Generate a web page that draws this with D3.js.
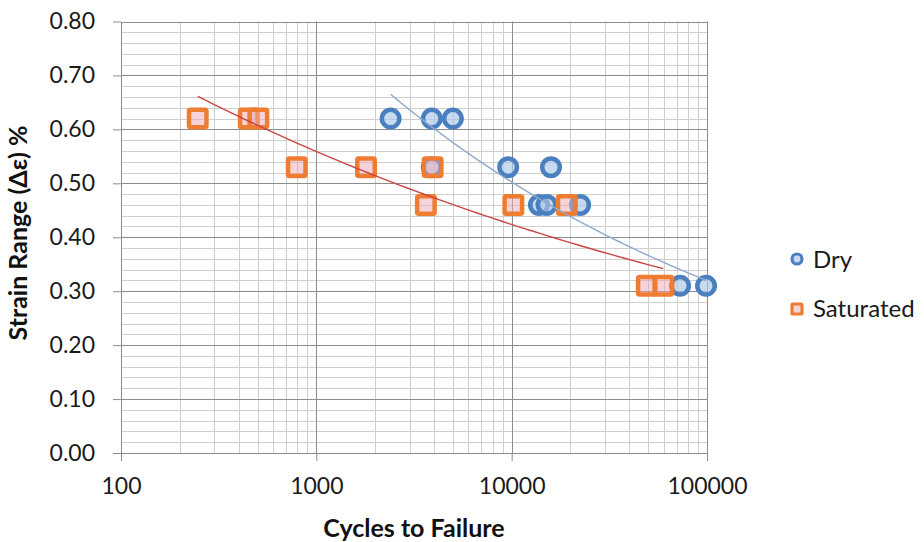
<!DOCTYPE html>
<html>
<head>
<meta charset="utf-8">
<script src="https://cdn.jsdelivr.net/npm/d3@7/dist/d3.min.js"></script>
<style>
  html, body { margin: 0; padding: 0; background: #fff; }
  svg { display: block; font-family: Lato, "Open Sans", "Liberation Sans", sans-serif; }
</style>
</head>
<body>
<svg id="chart" width="924" height="542"></svg>
<script>
// Strain-life data: cycles to failure vs. strain range for dry and saturated specimens
const dryCycles = [2400, 3900, 5000, 9600, 15900, 3900, 13800, 15100, 22400, 72800, 98900];
const dryStrain = [0.62, 0.62, 0.62, 0.53, 0.53, 0.53, 0.46, 0.46, 0.46, 0.31, 0.31];
const satCycles = [247, 451, 505, 794, 1796, 3940, 3638, 10200, 19150, 49200, 59800];
const satStrain = [0.62, 0.62, 0.62, 0.53, 0.53, 0.53, 0.46, 0.46, 0.46, 0.31, 0.31];

const xTickValues = [100, 1000, 10000, 100000];
const yTickValues = [0, 0.1, 0.2, 0.3, 0.4, 0.5, 0.6, 0.7, 0.8];
const seriesNames = ["Dry", "Saturated"];

const svg = d3.select("#chart");

const x = d3.scaleLog().domain([100, 100000]).range([121, 707]);
const y = d3.scaleLinear().domain([0, 0.8]).range([453, 21.5]);

// minor grid values
const xMinor = [];
[100, 1000, 10000].forEach(d => { for (let k = 2; k <= 9; k++) xMinor.push(d * k); });
const yMinor = d3.range(0, 41).map(i => i * 0.02).filter((v, i) => i % 5 !== 0);

const grid = svg.append("g");
grid.selectAll("line.ymin").data(yMinor).join("line")
  .attr("x1", x.range()[0]).attr("x2", x.range()[1])
  .attr("y1", d => Math.round(y(d)) + 0.5).attr("y2", d => Math.round(y(d)) + 0.5)
  .attr("stroke", "#cfcfcf").attr("stroke-width", 1);
grid.selectAll("line.xmin").data(xMinor).join("line")
  .attr("y1", y.range()[0]).attr("y2", y.range()[1])
  .attr("x1", d => Math.round(x(d)) + 0.5).attr("x2", d => Math.round(x(d)) + 0.5)
  .attr("stroke", "#cfcfcf").attr("stroke-width", 1);
grid.selectAll("line.ymaj").data(yTickValues.slice(1)).join("line")
  .attr("x1", x.range()[0]).attr("x2", x.range()[1])
  .attr("y1", d => Math.round(y(d)) + 0.5).attr("y2", d => Math.round(y(d)) + 0.5)
  .attr("stroke", "#8c8c8c").attr("stroke-width", 1);
grid.selectAll("line.xmaj").data(xTickValues.slice(1)).join("line")
  .attr("y1", y.range()[0]).attr("y2", y.range()[1])
  .attr("x1", d => Math.round(x(d)) + 0.5).attr("x2", d => Math.round(x(d)) + 0.5)
  .attr("stroke", "#8c8c8c").attr("stroke-width", 1);

// axes
const xAxis = d3.axisBottom(x).tickValues(xTickValues).tickFormat(d3.format("d"))
  .tickSizeInner(8).tickSizeOuter(0).tickPadding(17);
const yAxis = d3.axisLeft(y).tickValues(yTickValues).tickFormat(d3.format(".2f"))
  .tickSizeInner(8).tickSizeOuter(0).tickPadding(18);

const gx = svg.append("g").attr("transform", `translate(0,${y(0)})`).call(xAxis);
const gy = svg.append("g").attr("transform", `translate(${x(100)},0)`).call(yAxis);
[gx, gy].forEach(g => {
  g.selectAll("path.domain").attr("stroke", "#8c8c8c");
  g.selectAll(".tick line").attr("stroke", "#8c8c8c");
  g.selectAll("text").attr("font-size", 23).attr("fill", "#1a1a1a")
    .attr("font-family", "Lato, 'Open Sans', sans-serif");
});

// axis titles
svg.append("text").attr("x", 414).attr("y", 537)
  .attr("text-anchor", "middle").attr("font-size", 25).attr("font-weight", "bold")
  .attr("fill", "#111").text("Cycles to Failure");
svg.append("text").attr("transform", "translate(27,233) rotate(-90)")
  .attr("text-anchor", "middle").attr("font-size", 25).attr("font-weight", "bold")
  .attr("fill", "#111").text("Strain Range (Δε) %");

const blue = "#4a7fc0", orange = "#ee7d31";
const dryData = dryCycles.map((c, i) => ({ c, s: dryStrain[i] }));
const satData = satCycles.map((c, i) => ({ c, s: satStrain[i] }));

// markers
svg.append("g").selectAll("circle").data(dryData).join("circle")
  .attr("cx", d => x(d.c)).attr("cy", d => y(d.s)).attr("r", 8.75)
  .attr("fill", "rgba(170,198,230,0.65)").attr("stroke", blue).attr("stroke-width", 4.5);
const sq = 17.5;
svg.append("g").selectAll("rect").data(satData).join("rect")
  .attr("x", d => x(d.c) - sq / 2).attr("y", d => y(d.s) - sq / 2)
  .attr("width", sq).attr("height", sq).attr("rx", 1.5)
  .attr("fill", "rgba(236,168,180,0.5)").attr("stroke", orange).attr("stroke-width", 4.5);

// power-law trendlines y = a * x^b, least squares in log-log space
function powerFit(xs, ys) {
  const lx = xs.map(Math.log), ly = ys.map(Math.log);
  const mx = d3.mean(lx), my = d3.mean(ly);
  const b = d3.sum(lx, (v, i) => (v - mx) * (ly[i] - my)) / d3.sum(lx, v => (v - mx) ** 2);
  const a = Math.exp(my - b * mx);
  return { a, b, lo: d3.min(xs), hi: d3.max(xs) };
}
function trend(fit) {
  const n = 60, pts = [];
  for (let i = 0; i <= n; i++) {
    const c = Math.exp(Math.log(fit.lo) + (Math.log(fit.hi) - Math.log(fit.lo)) * i / n);
    pts.push([c, fit.a * Math.pow(c, fit.b)]);
  }
  return pts;
}
const line = d3.line().x(d => x(d[0])).y(d => y(d[1]));
svg.append("path").attr("d", line(trend(powerFit(satCycles, satStrain))))
  .attr("fill", "none").attr("stroke", "#cc4444").attr("stroke-width", 1.4);
svg.append("path").attr("d", line(trend(powerFit(dryCycles, dryStrain))))
  .attr("fill", "none").attr("stroke", "#8fa9cc").attr("stroke-width", 1.4);

// legend
const lg = svg.append("g");
lg.append("circle").attr("cx", 797).attr("cy", 259).attr("r", 5)
  .attr("fill", "rgba(170,198,230,0.65)").attr("stroke", blue).attr("stroke-width", 3.2);
lg.append("text").attr("x", 813).attr("y", 267.5).attr("font-size", 24).attr("fill", "#1a1a1a").text(seriesNames[0]);
lg.append("rect").attr("x", 792).attr("y", 304).attr("width", 10).attr("height", 10).attr("rx", 1)
  .attr("fill", "rgba(236,168,180,0.5)").attr("stroke", orange).attr("stroke-width", 3.2);
lg.append("text").attr("x", 813).attr("y", 317).attr("font-size", 24).attr("fill", "#1a1a1a").text(seriesNames[1]);
</script>
</body>
</html>
